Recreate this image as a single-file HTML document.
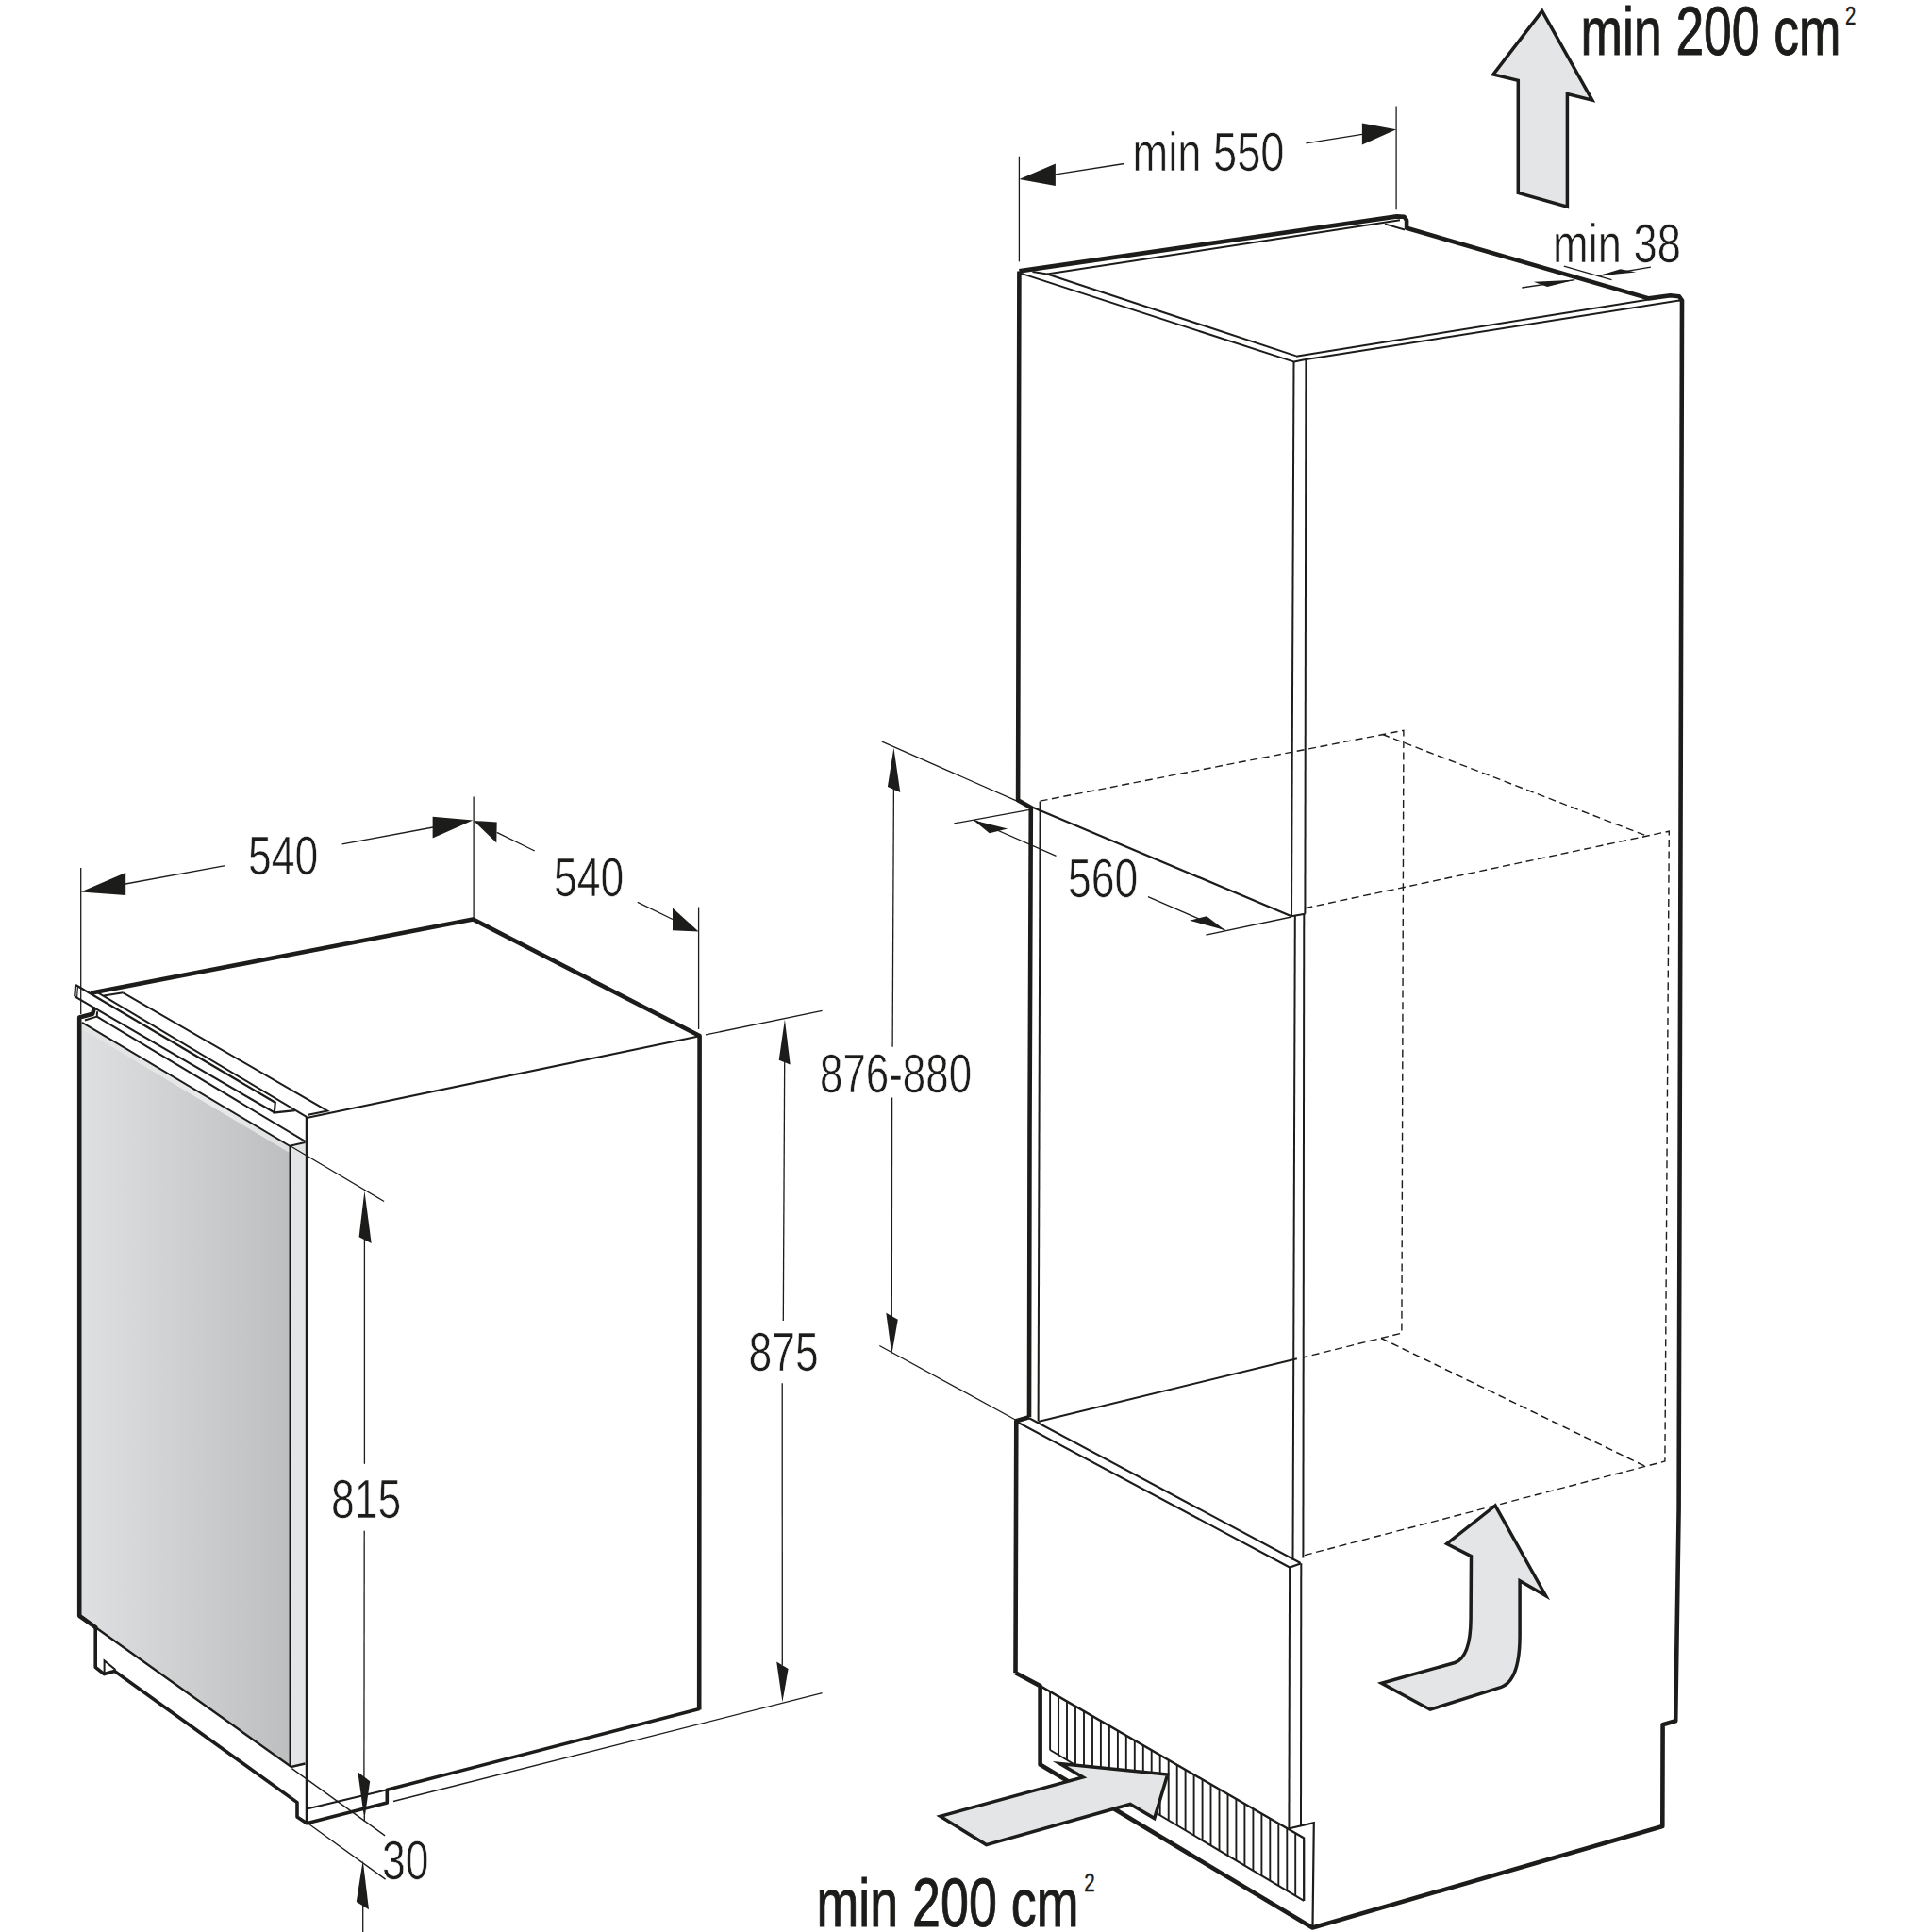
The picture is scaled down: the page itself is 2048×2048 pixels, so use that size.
<!DOCTYPE html>
<html lang="en"><head><meta charset="utf-8"><title>Installation dimensions</title>
<style>
html,body{margin:0;padding:0;background:#fff;}
body{width:2048px;height:2048px;overflow:hidden;font-family:"Liberation Sans",sans-serif;}
svg{display:block;}
</style></head><body>
<svg width="2048" height="2048" viewBox="0 0 2048 2048" fill="none" stroke="#1c1c1a" stroke-linecap="butt" stroke-linejoin="miter">
<defs>
<linearGradient id="gdoor" gradientUnits="userSpaceOnUse" x1="84" y1="0" x2="309" y2="0">
<stop offset="0" stop-color="#dfe0e1"/><stop offset="1" stop-color="#bcbec0"/>
</linearGradient>
<linearGradient id="ghl" gradientUnits="userSpaceOnUse" x1="84" y1="0" x2="309" y2="0"><stop offset="0" stop-color="#ffffff" stop-opacity="0.15"/><stop offset="0.6" stop-color="#ffffff" stop-opacity="0.6"/><stop offset="1" stop-color="#ffffff" stop-opacity="0.5"/></linearGradient>
</defs>
<rect x="0" y="0" width="2048" height="2048" fill="#ffffff" stroke="none"/>
<g id="fridge">
<polygon points="86.5,1083.5 307.6,1214.8 307.6,1872.6 84.2,1712.8 84.2,1082.0" fill="url(#gdoor)" stroke="none" />
<polygon points="87.0,1084.6 307.0,1215.6 307.0,1222.0 87.0,1091.0" fill="url(#ghl)" stroke="none" />
<polygon points="308.5,1214.8 323.5,1211.1 323.5,1869.5 308.5,1873.0" fill="#e4e5e7" stroke="none" />
<path d="M130.5,1052.3 L347.2,1177.6 L326.7,1181.8" stroke-width="2.0" />
<path d="M109.8,1055.6 L130.5,1052.3" stroke-width="2.0" />
<path d="M103.1,1051.9 L325.3,1184.1" stroke-width="2.0" />
<path d="M80.1,1044.0 L291.8,1168.7 L290.8,1179.4 L312.7,1177.1" stroke-width="2.2" />
<path d="M79.3,1056.4 L290.8,1179.3" stroke-width="2.2" />
<path d="M80.1,1044.0 L79.3,1056.4" stroke-width="2.2" />
<path d="M82.4,1046.3 L81.6,1057.5" stroke-width="1.2" />
<path d="M102.7,1077.6 L323.9,1210.2" stroke-width="2.0" />
<path d="M103.1,1072.2 L102.7,1077.6 L89.9,1081.5" stroke-width="2.0" />
<path d="M87.0,1083.8 L307.1,1214.8 L323.5,1211.1" stroke-width="2.0" />
<path d="M307.6,1214.8 L307.6,1872.6" stroke-width="2.2" />
<path d="M92.0,1718.4 L308.8,1873.0 L323.5,1869.5" stroke-width="2.4" />
<path d="M325.0,1184.1 L325.0,1933.0" stroke-width="2.5" />
<path d="M325.0,1185.0 L740.5,1098.5" stroke-width="2.2" />
<path d="M325.2,1917.5 L410.3,1897.3" stroke-width="2.2" />
<path d="M110.6,1773.5 L110.6,1760.4 L122.5,1770.0" stroke-width="2.0" />
<path d="M101.2,1725.0 L101.2,1767.3 L110.4,1774.6 L121.4,1771.4 L315.0,1910.6 L315.0,1926.1 L325.2,1932.7 L410.3,1910.9 L410.3,1897.3 L741.4,1811.6" stroke-width="3.6" stroke-linejoin="round"/>
<path d="M99.6,1069.5 L98.2,1074.7 L84.2,1078.5 L84.2,1712.8 L101.2,1725.0" stroke-width="4.6" stroke-linejoin="round" stroke-linecap="round"/>
<path d="M741.2,1812.5 L741.6,1098.0 L501.4,974.5 L96.0,1052.8" stroke-width="4.6" stroke-linejoin="round"/>
</g>
<g id="fdims">
<path d="M85.7,920.0 L85.7,1075.0" stroke-width="1.3" />
<path d="M502.1,844.5 L502.1,972.9" stroke-width="1.3" />
<path d="M740.6,961.5 L740.6,1091.0" stroke-width="1.3" />
<polygon points="85.6,945.5 133.2,925.0 133.2,949.0" fill="#1c1c1a" stroke="none" />
<path d="M133.0,937.0 L238.8,917.6" stroke-width="1.3" />
<path d="M362.6,894.8 L459.0,877.0" stroke-width="1.3" />
<polygon points="501.4,869.4 458.6,865.8 458.6,888.6" fill="#1c1c1a" stroke="none" />
<polygon points="502.0,870.0 526.7,871.4 526.3,893.6" fill="#1c1c1a" stroke="none" />
<path d="M526.7,882.4 L566.7,902.0" stroke-width="1.3" />
<path d="M675.8,956.3 L713.0,974.5" stroke-width="1.3" />
<polygon points="740.6,987.4 713.0,962.5 713.0,986.3" fill="#1c1c1a" stroke="none" />
<path d="M748.0,1096.9 L871.6,1071.4" stroke-width="1.3" />
<polygon points="831.9,1080.7 825.7,1123.8 837.7,1128.4" fill="#1c1c1a" stroke="none" />
<path d="M831.7,1125.0 L830.3,1400.0" stroke-width="1.3" />
<path d="M829.2,1466.3 L829.3,1765.0" stroke-width="1.3" />
<polygon points="829.4,1804.3 823.2,1761.5 835.6,1769.1" fill="#1c1c1a" stroke="none" />
<path d="M417.0,1909.5 L871.6,1794.6" stroke-width="1.3" />
<path d="M308.5,1215.3 L407.1,1273.5" stroke-width="1.3" />
<polygon points="386.4,1262.5 380.6,1311.2 393.7,1318.0" fill="#1c1c1a" stroke="none" />
<path d="M386.4,1314.0 L386.4,1551.8" stroke-width="1.3" />
<path d="M386.2,1622.7 L385.9,1885.0" stroke-width="1.3" />
<polygon points="386.3,1929.0 379.3,1878.3 392.2,1888.2" fill="#1c1c1a" stroke="none" />
<path d="M386.3,1925.0 L386.3,1931.0" stroke-width="1.3" />
<path d="M309.4,1874.6 L408.1,1945.9" stroke-width="1.3" />
<path d="M327.0,1933.2 L408.6,1992.1" stroke-width="1.3" />
<polygon points="384.7,1972.0 377.8,2016.1 391.0,2024.2" fill="#1c1c1a" stroke="none" />
<path d="M384.7,2018.0 L384.7,2048.0" stroke-width="1.3" />
</g>
<g id="cab">
<path d="M1081.0,289.4 L1372.0,383.6" stroke-width="2.0" />
<path d="M1110.0,290.5 L1374.0,377.4" stroke-width="2.0" />
<path d="M1094.5,288.0 L1110.0,290.5 L1484.0,233.3" stroke-width="2.0" />
<path d="M1468.0,237.4 L1489.0,243.5" stroke-width="2.0" />
<path d="M1374.0,377.8 L1747.8,317.4" stroke-width="2.0" />
<path d="M1372.0,383.6 L1381.3,381.5 L1781.0,318.4" stroke-width="2.0" />
<path d="M1371.5,383.6 L1369.0,971.3" stroke-width="2.0" />
<path d="M1384.4,381.0 L1383.4,968.7" stroke-width="2.0" />
<path d="M1369.0,971.3 L1383.4,968.7" stroke-width="2.0" />
<path d="M1092.8,855.0 L1369.0,971.3" stroke-width="2.3" />
<path d="M1102.6,849.6 L1100.6,1506.2" stroke-width="2.0" />
<path d="M1372.8,971.0 L1370.5,1653.7" stroke-width="2.0" />
<path d="M1382.3,969.0 L1381.4,1651.5" stroke-width="2.0" />
<path d="M1100.6,1507.0 L1374.9,1440.2" stroke-width="2.1" />
<path d="M1091.0,1503.2 L1378.3,1656.8" stroke-width="2.1" />
<path d="M1078.6,1507.5 L1367.1,1661.5 L1379.3,1657.3" stroke-width="2.1" />
<path d="M1367.1,1661.5 L1366.4,1938.3" stroke-width="2.0" />
<path d="M1379.3,1657.3 L1379.0,1935.3" stroke-width="2.0" />
<path d="M1102.6,849.1 L1487.9,774.3 L1485.9,1413.1 L1381.1,1439.0" stroke-width="1.4" stroke-dasharray="8 4.6"/>
<path d="M1465.2,778.4 L1744.7,885.8" stroke-width="1.4" stroke-dasharray="8 4.6"/>
<path d="M1383.4,962.7 L1769.3,881.2 L1764.9,1549.0 L1379.8,1649.4" stroke-width="1.4" stroke-dasharray="8 4.6"/>
<path d="M1463.9,1418.5 L1743.4,1554.1" stroke-width="1.4" stroke-dasharray="8 4.6"/>
<path d="M1382.2,1948.4 L1382.2,2014.9" stroke-width="1.9" />
<path d="M1373.2,1943.2 L1373.2,2009.6" stroke-width="1.9" />
<path d="M1364.3,1938.0 L1364.3,2004.2" stroke-width="1.9" />
<path d="M1355.3,1932.8 L1355.3,1998.9" stroke-width="1.9" />
<path d="M1346.3,1927.6 L1346.3,1993.6" stroke-width="1.9" />
<path d="M1337.4,1922.4 L1337.4,1988.3" stroke-width="1.9" />
<path d="M1328.4,1917.2 L1328.4,1982.9" stroke-width="1.9" />
<path d="M1319.4,1912.0 L1319.4,1977.6" stroke-width="1.9" />
<path d="M1310.4,1906.9 L1310.4,1972.3" stroke-width="1.9" />
<path d="M1301.5,1901.7 L1301.5,1966.9" stroke-width="1.9" />
<path d="M1292.5,1896.5 L1292.5,1961.6" stroke-width="1.9" />
<path d="M1283.5,1891.3 L1283.5,1956.3" stroke-width="1.9" />
<path d="M1274.6,1886.1 L1274.6,1951.0" stroke-width="1.9" />
<path d="M1265.6,1880.9 L1265.6,1945.6" stroke-width="1.9" />
<path d="M1256.6,1875.7 L1256.6,1940.3" stroke-width="1.9" />
<path d="M1247.7,1870.5 L1247.7,1935.0" stroke-width="1.9" />
<path d="M1238.7,1865.3 L1238.7,1929.6" stroke-width="1.9" />
<path d="M1229.7,1860.1 L1229.7,1924.3" stroke-width="1.9" />
<path d="M1220.7,1854.9 L1220.7,1919.0" stroke-width="1.9" />
<path d="M1211.8,1849.7 L1211.8,1913.7" stroke-width="1.9" />
<path d="M1202.8,1844.5 L1202.8,1908.3" stroke-width="1.9" />
<path d="M1193.8,1839.3 L1193.8,1903.0" stroke-width="1.9" />
<path d="M1184.9,1834.1 L1184.9,1897.7" stroke-width="1.9" />
<path d="M1175.9,1828.9 L1175.9,1892.4" stroke-width="1.9" />
<path d="M1166.9,1823.8 L1166.9,1887.0" stroke-width="1.9" />
<path d="M1158.0,1818.6 L1158.0,1881.7" stroke-width="1.9" />
<path d="M1149.0,1813.4 L1149.0,1876.4" stroke-width="1.9" />
<path d="M1140.0,1808.2 L1140.0,1871.0" stroke-width="1.9" />
<path d="M1131.0,1803.0 L1131.0,1865.7" stroke-width="1.9" />
<path d="M1122.1,1797.8 L1122.1,1860.4" stroke-width="1.9" />
<path d="M1113.1,1792.6 L1113.1,1855.1" stroke-width="1.9" />
<path d="M1113.1,1855.0 L1382.2,2014.9" stroke-width="2.0" />
<path d="M1102.6,1787.1 L1382.8,1948.7" stroke-width="2.4" />
<path d="M1366.7,1938.3 L1392.8,1932.2 L1391.5,2043.0" stroke-width="2.2" />
<path d="M1382.2,1948.7 L1382.2,2014.9" stroke-width="2.0" />
<path d="M1091.0,1502.3 L1091.5,1200.0 L1092.8,856.1 L1079.1,848.3 L1080.4,287.4" stroke-width="4.6" stroke-linejoin="round"/>
<path d="M1080.4,287.4 L1480.7,229.4 L1488.5,229.8 L1491.1,233.5 L1491.1,241.8 L1747.8,316.4 L1770.6,313.3 L1780.0,314.2 L1783.0,318.5 L1779.6,1600.0 L1776.2,1824.2 L1762.6,1828.2 L1762.3,1936.0 L1391.3,2043.5 L1102.6,1870.5 L1102.6,1787.1 L1076.5,1773.2" stroke-width="4.6" stroke-linejoin="round"/>
<path d="M1076.5,1773.2 L1077.3,1506.2 L1091.0,1502.3" stroke-width="4.6" stroke-linejoin="round"/>
</g>
<g id="arrows" stroke-linejoin="miter" stroke-miterlimit="8">
<polygon points="1634.7,11.6 1582.9,78.9 1609.3,85.4 1609.3,204.5 1661.4,219.2 1661.4,99.6 1687.8,106.1" fill="#e4e5e7" stroke-width="3.5" />
<path d="M1585,1596 L1533.7,1636.5 L1559.5,1649.6 L1559.1,1715.9 C1559,1740 1554,1758 1542.2,1762.5 L1464.5,1784.2 L1516.0,1812.2 L1591.4,1788.4 C1606,1783 1611.2,1762 1611.1,1732.7 L1611.1,1675.8 L1638.5,1691.5 Z" fill="#e4e5e7" stroke-width="3.5"/>
<polygon points="996.6,1925.3 1045.5,1955.6 1198.1,1912.5 1223.7,1927.6 1237.7,1881.0 1123.5,1869.6 1148.0,1884.0" fill="#e4e5e7" stroke-width="3.5" />
</g>
<g id="cdims">
<path d="M1080.4,165.8 L1080.4,277.4" stroke-width="1.3" />
<path d="M1480.1,112.4 L1480.1,222.2" stroke-width="1.3" />
<polygon points="1080.4,190.1 1118.9,173.5 1118.9,196.9" fill="#1c1c1a" stroke="none" />
<path d="M1118.9,184.9 L1191.8,173.5" stroke-width="1.3" />
<path d="M1384.4,151.8 L1444.0,142.4" stroke-width="1.3" />
<polygon points="1480.1,137.3 1443.9,130.6 1443.9,153.4" fill="#1c1c1a" stroke="none" />
<path d="M1657.8,282.2 L1708.5,296.7" stroke-width="1.3" />
<path d="M1613.3,305.0 L1669.2,296.7" stroke-width="1.3" />
<polygon points="1669.2,296.7 1625.7,298.8 1640.2,303.9" fill="#1c1c1a" stroke="none" />
<path d="M1694.0,292.5 L1749.9,283.2" stroke-width="1.3" />
<polygon points="1694.0,292.5 1717.6,285.3 1734.2,288.4" fill="#1c1c1a" stroke="none" />
<path d="M934.9,786.2 L1079.1,849.6" stroke-width="1.3" />
<polygon points="947.4,792.7 940.9,834.1 954.3,840.1" fill="#1c1c1a" stroke="none" />
<path d="M947.4,836.0 L946.1,1109.7" stroke-width="1.3" />
<path d="M945.6,1163.6 L945.3,1396.0" stroke-width="1.3" />
<polygon points="945.3,1435.8 939.3,1391.8 951.8,1398.8" fill="#1c1c1a" stroke="none" />
<path d="M932.3,1426.5 L1078.6,1506.2" stroke-width="1.3" />
<path d="M1011.3,872.9 L1092.8,858.2" stroke-width="1.3" />
<polygon points="1032.0,869.6 1048.8,883.3 1068.2,878.6" fill="#1c1c1a" stroke="none" />
<path d="M1032.0,869.0 L1119.5,907.3" stroke-width="1.3" />
<path d="M1217.0,950.6 L1298.6,986.0" stroke-width="1.3" />
<polygon points="1298.6,986.0 1261.0,975.7 1279.1,971.3" fill="#1c1c1a" stroke="none" />
<path d="M1278.4,991.2 L1369.0,972.0" stroke-width="1.3" />
</g>
<g id="txt" fill="#1c1c1a" stroke="none" font-family="'Liberation Sans', sans-serif">
<text transform="translate(263.0,927.1) scale(0.788,1)" font-size="56.5" text-anchor="start" stroke="#ffffff" stroke-width="0.7">540</text>
<text transform="translate(587.0,950.3) scale(0.788,1)" font-size="56.5" text-anchor="start" stroke="#ffffff" stroke-width="0.7">540</text>
<text transform="translate(793.5,1452.6) scale(0.788,1)" font-size="56.5" text-anchor="start" stroke="#ffffff" stroke-width="0.7">875</text>
<text transform="translate(351.0,1608.6) scale(0.788,1)" font-size="56.5" text-anchor="start" stroke="#ffffff" stroke-width="0.7">815</text>
<text transform="translate(405.0,1991.6) scale(0.788,1)" font-size="56.5" text-anchor="start" stroke="#ffffff" stroke-width="0.7">30</text>
<text transform="translate(869.0,1158.1) scale(0.777,1)" font-size="56.5" text-anchor="start" stroke="#ffffff" stroke-width="0.7">876-880</text>
<text transform="translate(1200.5,181.1) scale(0.801,1)" font-size="56.5" text-anchor="start" stroke="#ffffff" stroke-width="0.7">min 550</text>
<text transform="translate(1646.0,277.8) scale(0.801,1)" font-size="56.5" text-anchor="start" stroke="#ffffff" stroke-width="0.7">min 38</text>
<text transform="translate(1132.0,951.4) scale(0.788,1)" font-size="56.5" text-anchor="start" stroke="#ffffff" stroke-width="0.7">560</text>
<text transform="translate(1675.6,58.2) scale(0.731,1)" font-size="73" stroke="#1c1c1a" stroke-width="1.0">min 200 cm<tspan x="383.6" y="-32.6" font-size="28" stroke-width="0.4">2</tspan></text>
<text transform="translate(865.5,2041.7) scale(0.737,1)" font-size="73" stroke="#1c1c1a" stroke-width="1.0">min 200 cm<tspan x="385.1" y="-36.7" font-size="28" stroke-width="0.4">2</tspan></text>
</g>
</svg>
</body></html>
